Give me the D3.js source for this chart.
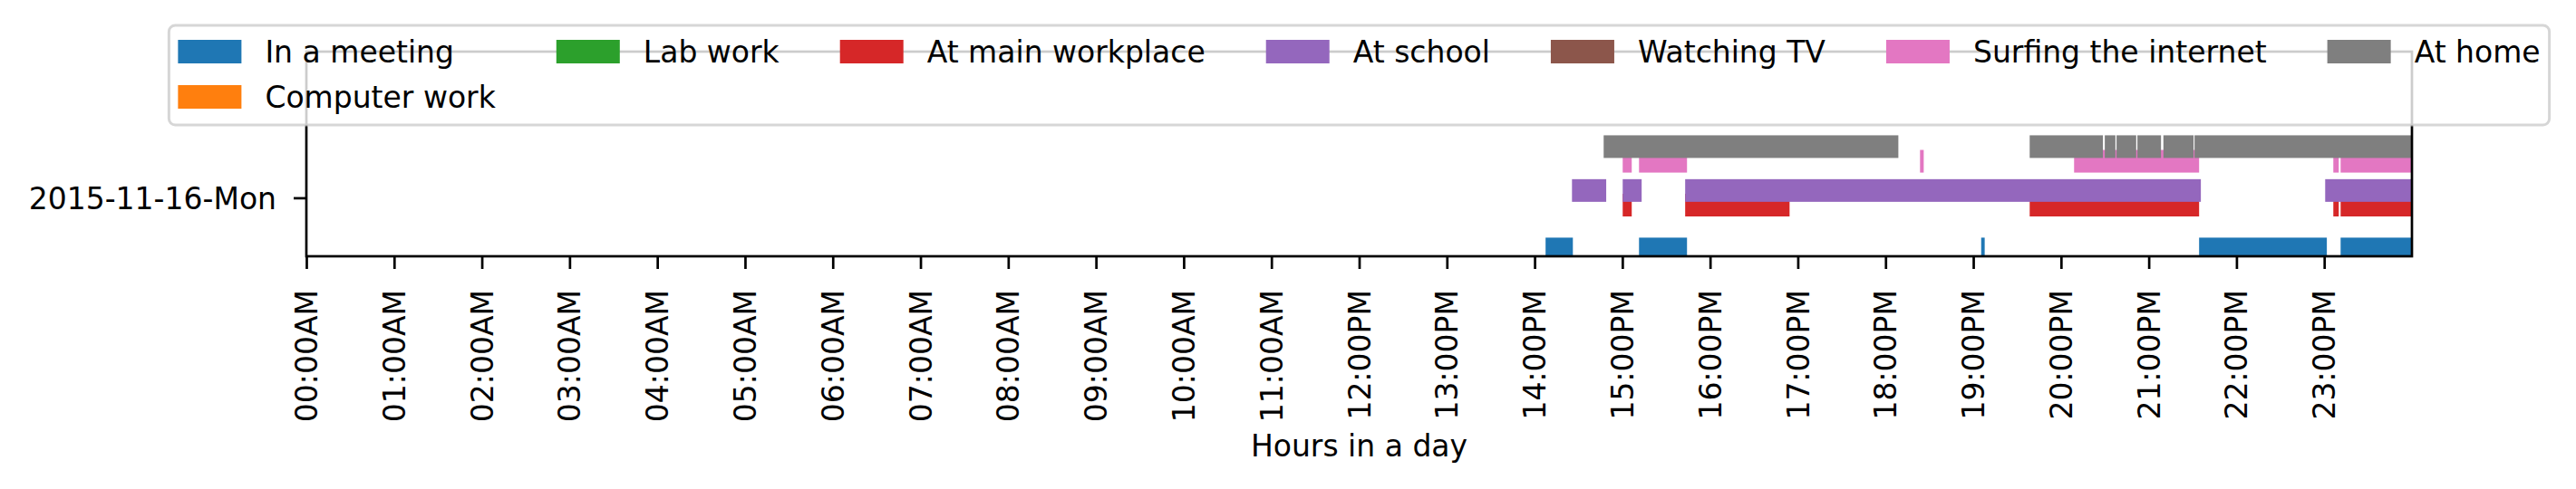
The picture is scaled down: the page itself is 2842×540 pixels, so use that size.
<!DOCTYPE html>
<html>
<head>
<meta charset="utf-8">
<script src="https://cdn.jsdelivr.net/npm/d3@7"></script>
<style>
  html, body { margin: 0; padding: 0; background: #fff; }
  svg { display: block; font-family: "DejaVu Sans", sans-serif; }
</style>
</head>
<body>
<div id="chart"></div>
<script>
// activity categories, in drawing order (bottom to top inside the day row)
var categories = ["In a meeting", "Computer work", "Lab work", "At main workplace",
                  "At school", "Watching TV", "Surfing the internet", "At home"];

// one row per day
var days = ["2015-11-16-Mon"];

// hour ticks and their labels
var hourTicks = [0, 1, 2, 3, 4, 5, 6, 7, 8, 9, 10, 11, 12, 13, 14, 15, 16, 17, 18, 19, 20, 21, 22, 23];
var hourLabels = ["00:00AM", "01:00AM", "02:00AM", "03:00AM", "04:00AM", "05:00AM",
                  "06:00AM", "07:00AM", "08:00AM", "09:00AM", "10:00AM", "11:00AM",
                  "12:00PM", "13:00PM", "14:00PM", "15:00PM", "16:00PM", "17:00PM",
                  "18:00PM", "19:00PM", "20:00PM", "21:00PM", "22:00PM", "23:00PM"];

// [start, end] in hours of the day, one list per category
var inMeeting = [[14.125, 14.436], [15.19, 15.737], [19.09, 19.13], [21.574, 23.03], [23.187, 24]];
var computerWork = [];
var labWork = [];
var atWorkplace = [[15.004, 15.107], [15.716, 16.906], [19.643, 21.574], [23.104, 23.166], [23.187, 24]];
var atSchool = [[14.426, 14.816], [15.004, 15.22], [15.716, 21.594], [23.011, 24]];
var watchingTV = [];
var surfing = [[15.004, 15.107], [15.19, 15.737], [18.393, 18.435], [20.149, 21.574],
               [23.104, 23.166], [23.187, 24]];
var atHome = [[14.787, 18.146], [19.643, 20.478], [20.499, 20.62], [20.633, 20.857],
              [20.871, 21.14], [21.167, 21.511], [21.522, 24]];

var intervals = [inMeeting, computerWork, labWork, atWorkplace, atSchool, watchingTV, surfing, atHome];

window.onload = start;

function start() {
    var width = 2842;
    var height = 540;
    var margin = {top: 57, right: 181, bottom: 257, left: 338};
    var fontSize = 33;

    var svg = d3.select('#chart')
        .append('svg')
        .attr('width', width)
        .attr('height', height);

    var xScale = d3.scaleLinear().domain([0, 24]).range([margin.left, width - margin.right]);
    var yScale = d3.scaleLinear().domain([-0.4, 1.0]).range([height - margin.bottom, margin.top]);
    var color = d3.scaleOrdinal().domain(categories).range(d3.schemeCategory10);

    // bars sit around the day's tick, one lane per category
    var laneStep = 0.1;
    var barHeight = 0.155;

    svg.append('clipPath')
        .attr('id', 'plot-clip')
        .append('rect')
        .attr('x', margin.left)
        .attr('y', margin.top)
        .attr('width', width - margin.left - margin.right)
        .attr('height', height - margin.top - margin.bottom);

    var bars = svg.append('g').attr('clip-path', 'url(#plot-clip)');

    days.forEach(function(day, di) {
        categories.forEach(function(cat, ci) {
            var center = di + (ci - (categories.length - 1) / 2) * laneStep;
            bars.append('g')
                .selectAll('rect')
                .data(intervals[ci])
                .enter()
                .append('rect')
                .attr('x', function(d) { return xScale(d[0]); })
                .attr('width', function(d) { return xScale(d[1]) - xScale(d[0]); })
                .attr('y', yScale(center + barHeight / 2))
                .attr('height', yScale(center - barHeight / 2) - yScale(center + barHeight / 2))
                .attr('fill', color(cat));
        });
    });

    // x axis with rotated hour labels
    var xAxis = d3.axisBottom(xScale)
        .tickValues(hourTicks)
        .tickSize(14)
        .tickFormat(function(d, i) { return hourLabels[i]; });

    var gx = svg.append('g')
        .attr('transform', 'translate(0,' + (height - margin.bottom) + ')')
        .call(xAxis);
    gx.select('.domain').remove();
    gx.selectAll('.tick line').attr('stroke-width', 2.7);
    gx.selectAll('.tick text')
        .attr('font-family', 'DejaVu Sans')
        .attr('font-size', fontSize)
        .attr('fill', '#000')
        .attr('transform', 'rotate(-90)')
        .attr('text-anchor', 'end')
        .attr('x', -37)
        .attr('y', 0)
        .attr('dy', '0.35em');

    // y axis with day labels
    var yAxis = d3.axisLeft(yScale)
        .tickValues(days.map(function(d, i) { return i; }))
        .tickSize(14)
        .tickPadding(19)
        .tickFormat(function(d) { return days[d]; });

    var gy = svg.append('g')
        .attr('transform', 'translate(' + margin.left + ',0)')
        .call(yAxis);
    gy.select('.domain').remove();
    gy.selectAll('.tick line').attr('stroke-width', 2.7);
    gy.selectAll('.tick text')
        .attr('font-family', 'DejaVu Sans')
        .attr('font-size', fontSize)
        .attr('fill', '#000')
        .attr('dy', '0.36em');

    // spines
    svg.append('rect')
        .attr('x', margin.left)
        .attr('y', margin.top)
        .attr('width', width - margin.left - margin.right)
        .attr('height', height - margin.top - margin.bottom)
        .attr('fill', 'none')
        .attr('stroke', '#000')
        .attr('stroke-width', 2.7);

    svg.append('text')
        .attr('x', (xScale(0) + xScale(24)) / 2)
        .attr('y', 504)
        .attr('text-anchor', 'middle')
        .attr('font-size', fontSize)
        .text('Hours in a day');

    // legend: 7 columns filled column by column, centred over the axes
    var ncol = 7;
    var nrows = Math.ceil(categories.length / ncol);
    var nLarge = categories.length % ncol || ncol;
    var columns = [];
    var k = 0;
    for (var c = 0; c < ncol; c++) {
        var n = c < nLarge ? nrows : nrows - 1;
        columns.push(categories.slice(k, k + n));
        k += n;
    }

    var handleW = 70, handleH = 26, textPad = 26, colSpacing = 67, rowStep = 50, borderPad = 10;
    var legendTop = 28, firstRow = 57;

    var legend = svg.append('g');
    var frame = legend.append('rect');
    var items = legend.append('g');

    var cx = 0;
    columns.forEach(function(col) {
        var maxW = 0;
        col.forEach(function(cat, r) {
            var cy = firstRow + r * rowStep;
            items.append('rect')
                .attr('x', cx)
                .attr('y', cy - handleH / 2)
                .attr('width', handleW)
                .attr('height', handleH)
                .attr('fill', color(cat));
            var t = items.append('text')
                .attr('x', cx + handleW + textPad)
                .attr('y', cy)
                .attr('dy', '0.36em')
                .attr('font-size', fontSize)
                .text(cat);
            maxW = Math.max(maxW, t.node().getComputedTextLength());
        });
        cx += handleW + textPad + maxW + colSpacing;
    });
    var innerW = cx - colSpacing;
    var frameW = innerW + 2 * borderPad;
    var frameX = (xScale(0) + xScale(24)) / 2 - frameW / 2;
    items.attr('transform', 'translate(' + (frameX + borderPad) + ',0)');

    frame.attr('x', frameX)
        .attr('y', legendTop)
        .attr('width', frameW)
        .attr('height', nrows * rowStep + 10)
        .attr('rx', 7)
        .attr('fill', '#fff')
        .attr('fill-opacity', 0.8)
        .attr('stroke', '#cccccc')
        .attr('stroke-opacity', 0.8)
        .attr('stroke-width', 3);
}
</script>
</body>
</html>
